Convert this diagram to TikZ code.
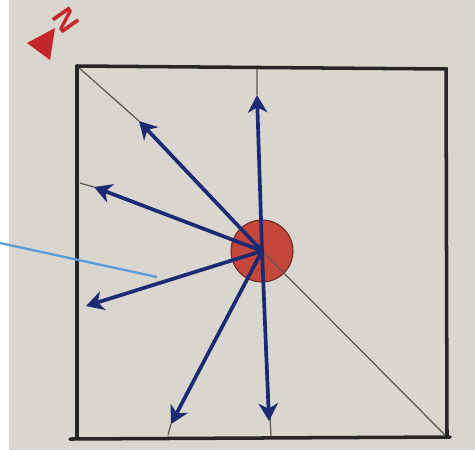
\documentclass[tikz,border=0pt]{standalone}
\usepackage{tikz}
\usetikzlibrary{arrows.meta,positioning}
\definecolor{paper}{HTML}{D9D5CF}
\definecolor{ink}{HTML}{1C2A74}
\definecolor{crayon}{HTML}{C5473B}
\definecolor{marker}{HTML}{C4262C}
\definecolor{pencil}{HTML}{5C5650}
\definecolor{sky}{HTML}{5A9BDA}
\begin{document}
\begin{tikzpicture}[
  x=0.02cm,y=-0.02cm,
  frame/.style={black!85,line width=2pt,line cap=round},
  guide/.style={pencil,line width=.7pt},
  ray/.style={ink,line width=2.1pt,line cap=round,-{Stealth[length=10pt,width=11pt,inset=3pt]}},
  hub/.style={circle,draw=crayon!55!black,line width=.6pt,fill=crayon,minimum size=1.24cm,inner sep=0pt}
]
  % paper
  \useasboundingbox (0,0) rectangle (475,450);
  \fill[paper] (9,0) rectangle (475,450);

  % corners of the plot
  \coordinate (nw) at (77,66);
  \coordinate (ne) at (446,69);
  \coordinate (se) at (447,437);
  \coordinate (sw) at (77,438);

  \node[hub] (hub) at (262,251) {};

  % tips of the rays
  \coordinate (tipN) at (257,95);
  \coordinate (tipNW) at (139,121);
  \coordinate (tipW) at (94,187);
  \coordinate (tipWS) at (86,306);
  \coordinate (tipSW) at (171,424);
  \coordinate (tipS) at (269,421);

  % pencil guides
  \draw[guide] (nw) -- (tipNW) (hub.center) -- (se);
  \draw[guide] (257,69) -- (tipN) (hub.center) -- (271,436);
  \draw[guide] (80,183) -- (tipW);
  \draw[guide] (tipSW) -- (168,435);

  % frame
  \draw[frame] (nw) -- (ne) -- (se);
  \draw[frame] (nw) -- (sw);
  \draw[frame] (70,439) -- (450,437);

  % rays
  \foreach \t in {tipN,tipNW,tipW,tipWS,tipSW,tipS}
    \draw[ray] (hub.center) -- (\t);

  % callout line
  \coordinate (callout) at (0,243);
  \coordinate (calloutend) at (157,277);
  \draw[sky,line width=1.3pt] (callout) -- (calloutend);

  % north arrow
  \fill[marker] (27,43) -- (55,28) -- (50,60) -- cycle;
  \node[text=marker,rotate=-55,font=\sffamily\bfseries\LARGE] (north) at (66,20) {N};
\end{tikzpicture}
\end{document}
